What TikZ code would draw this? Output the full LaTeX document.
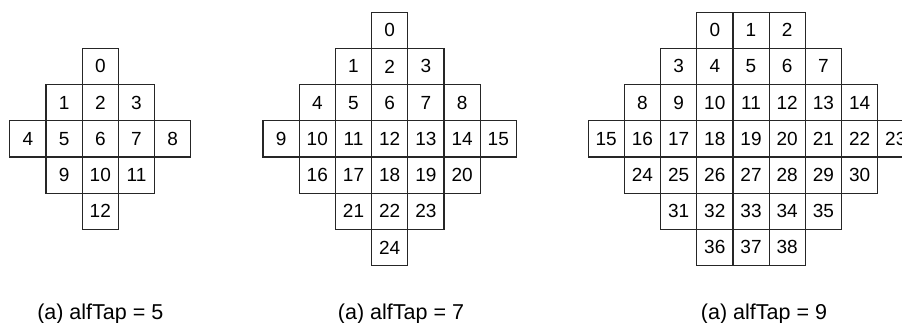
\documentclass[tikz,border=0pt]{standalone}
\usepackage{fontspec}
\setmainfont{Liberation Sans}
\newcount\cellidx
\begin{document}
\begin{tikzpicture}[x=1pt,y=1pt,
  cellbox/.style={draw=black!85,line width=1.2pt,minimum width=36.2pt,minimum height=36.2pt,inner sep=0pt,font=\fontsize{19}{21}\selectfont},
  caplabel/.style={anchor=base,inner sep=0pt,font=\fontsize{21.5}{23}\selectfont}]
\useasboundingbox (0,0) rectangle (902,-322);
\clip (0,0) rectangle (902,-322);
\foreach \d/\cx/\N/\h in {1/100.3/5/2, 2/389.7/7/3, 3/751/9/3} {
  \global\cellidx=0
  \foreach \r in {-\h,...,\h} {
    \pgfmathtruncatemacro\w{(\N-1)/2-abs(\r)}
    \foreach \c in {-\w,...,\w} {
      \node[cellbox] (d\d c\the\cellidx) at ({\cx+\c*36.2},{-(138.8+\r*36.2)}) {\the\cellidx};
      \global\advance\cellidx by 1
    }
  }
}
\node[caplabel] (lab1) at (100.3,-319) {(a) alfTap = 5};
\node[caplabel] (lab2) at (401,-319) {(a) alfTap = 7};
\node[caplabel] (lab3) at (764,-319) {(a) alfTap = 9};
\end{tikzpicture}
\end{document}
